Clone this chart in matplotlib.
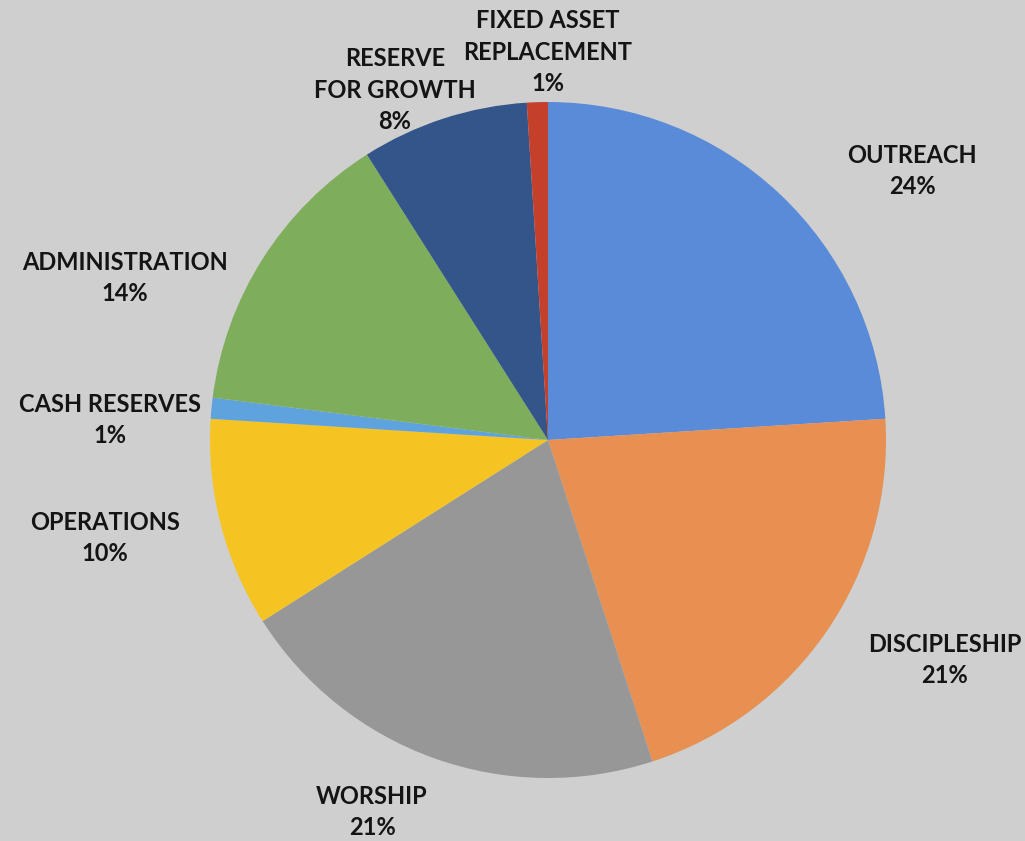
import matplotlib.pyplot as plt

# budget split, clockwise from 12 o'clock
categories = ["OUTREACH", "DISCIPLESHIP", "WORSHIP", "OPERATIONS",
              "CASH RESERVES", "ADMINISTRATION", "RESERVE\nFOR GROWTH",
              "FIXED ASSET\nREPLACEMENT"]
shares = [24, 21, 21, 10, 1, 14, 8, 1]

colors = ["#5A8BD8", "#E88F52", "#979797", "#F5C423",
          "#5EA3DE", "#7EAE5B", "#34558A", "#C4402A"]

# label centres in pixels (x, y of the text block)
label_pos = [(912, 171), (945, 660), (372, 812), (105, 538),
             (110, 420), (125, 278), (395, 90), (548, 52)]

W, H = 1025, 841
plt.rcParams['font.family'] = ['Lato', 'DejaVu Sans']

fig = plt.figure(figsize=(W / 100, H / 100), dpi=100)
fig.patch.set_facecolor("#CFCFCF")

cx, cy, r = 548, 440, 338
ax = fig.add_axes([(cx - r) / W, (H - cy - r) / H, 2 * r / W, 2 * r / H])
ax.set_facecolor("none")
ax.pie(shares, colors=colors, startangle=90, counterclock=False, radius=1,
       wedgeprops=dict(linewidth=0))
ax.set_xlim(-1, 1)
ax.set_ylim(-1, 1)
ax.set_aspect("equal")
ax.axis("off")

for name, val, (px, py) in zip(categories, shares, label_pos):
    fig.text(px / W, 1 - py / H, f"{name}\n{val}%", ha="center", va="center",
             fontsize=17, fontweight="bold", color="#141414",
             linespacing=1.45)

fig.savefig("out.png", dpi=100, facecolor=fig.get_facecolor())
